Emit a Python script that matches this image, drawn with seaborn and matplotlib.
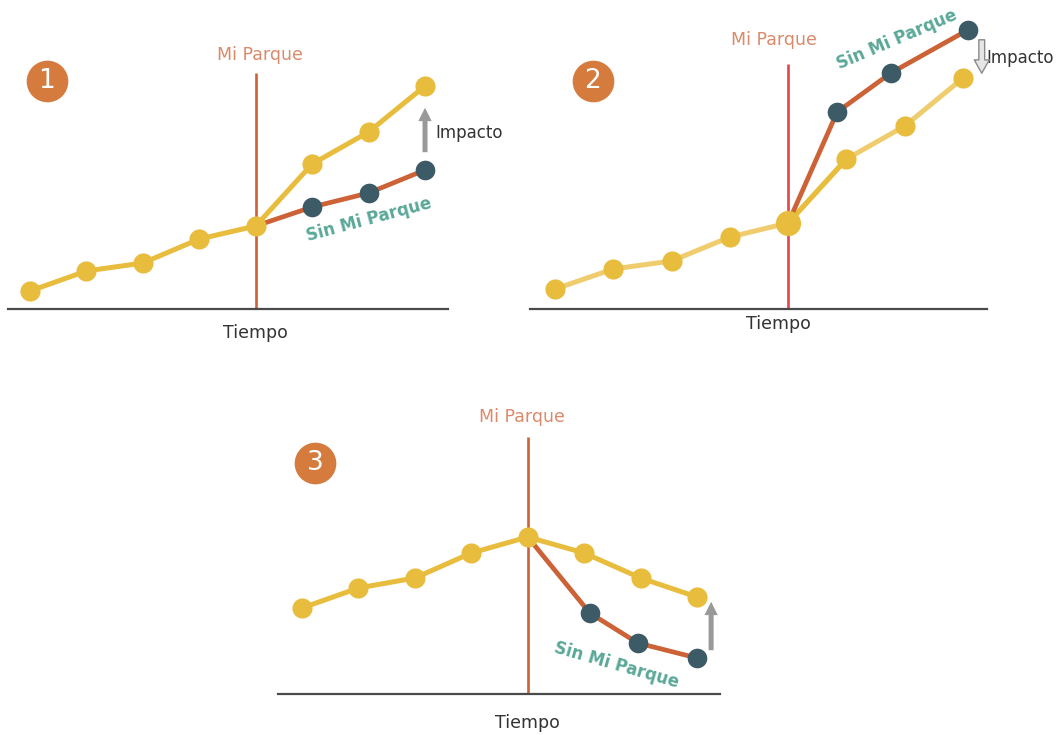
import matplotlib
matplotlib.use("Agg")
import matplotlib.pyplot as plt
import seaborn as sns
import numpy as np

sns.set_theme(style="white")
plt.rcParams['font.family'] = ['DejaVu Sans']

# ---------------- data (height above baseline) -------------
time_idx = [0, 1, 2, 3, 4, 5, 6, 7]

p1_con = [1.8, 3.8, 4.6, 7.0, 8.3, 14.5, 17.7, 22.3]
p1_sin_x = [4, 5, 6, 7]
p1_sin = [8.3, 10.2, 11.6, 13.9]

p2_con = [2.0, 4.0, 4.8, 7.2, 8.6, 15.0, 18.3, 23.1]
p2_sin_x = [4, 4.84, 5.76, 7.08]
p2_sin = [8.6, 19.7, 23.6, 27.9]

p3_con = [8.6, 10.6, 11.6, 14.1, 15.7, 14.1, 11.6, 9.7]
p3_sin_x = [4, 5.1, 5.95, 7.0]
p3_sin = [15.7, 8.1, 5.1, 3.6]

labels_mi = "Mi Parque"
labels_sin = "Sin Mi Parque"
label_imp = "Impacto"
label_time = "Tiempo"
panel_nums = ["1", "2", "3"]

# ---------------- style -------------
YEL = "#e8bc3c"
YEL_L = "#efcd6e"
DARK = "#3d5b66"
RED = "#cc6236"
VRED = "#e0474a"
TEAL = "#5aa898"
SALMON = "#da8a6a"
CIRC = "#d57b3e"
GRAY = "#999999"
BASE = "#4a4a4a"

W, H = 1064, 735
fig = plt.figure(figsize=(W / 100, H / 100), dpi=100)
fig.patch.set_facecolor("white")


def make_ax(px_left, px_right, px_base, px_top, x0_px, step_px):
    ax = fig.add_axes([px_left / W, (H - px_base) / H,
                       (px_right - px_left) / W, (px_base - px_top) / H])
    ax.set_xlim((px_left - x0_px) / step_px, (px_right - x0_px) / step_px)
    ax.set_ylim(0, (px_base - px_top) / 10.0)
    ax.set_facecolor("none")
    for s in ["top", "right", "left"]:
        ax.spines[s].set_visible(False)
    ax.spines["bottom"].set_color(BASE)
    ax.spines["bottom"].set_linewidth(1.6)
    ax.set_xticks([])
    ax.set_yticks([])
    ax.set_xlabel("")
    ax.set_ylabel("")
    return ax


def draw_panel(ax, con, sin_x, sin, vtop, vcolor, con_line_color, seg_color,
               num, num_pos, mi_pos, sin_pos, sin_rot, time_pos,
               arrow, imp_pos, hollow=False, big_mid=False):
    ax.vlines(4, 0, vtop, color=vcolor, lw=1.9, zorder=1, clip_on=False)
    sns.lineplot(x=time_idx, y=con, ax=ax, color=con_line_color, lw=3.6,
                 zorder=2, estimator=None, sort=False)
    if seg_color is not None:
        sns.lineplot(x=time_idx[4:6], y=con[4:6], ax=ax, color=seg_color,
                     lw=3.6, zorder=2, estimator=None, sort=False)
    sns.lineplot(x=sin_x, y=sin, ax=ax, color=RED, lw=3.4, zorder=3,
                 estimator=None, sort=False)
    sns.scatterplot(x=time_idx, y=con, ax=ax, color=YEL, s=210,
                    linewidth=0, zorder=4, clip_on=False, legend=False)
    if big_mid:
        ax.scatter([time_idx[4]], [con[4]], s=330, color=YEL,
                   linewidth=0, zorder=5, clip_on=False)
    sns.scatterplot(x=sin_x[1:], y=sin[1:], ax=ax, color=DARK, s=200,
                    linewidth=0, zorder=5, clip_on=False, legend=False)
    ax.text(mi_pos[0], mi_pos[1], labels_mi, color=SALMON, fontsize=12.5,
            ha="center", va="center", clip_on=False)
    ax.text(sin_pos[0], sin_pos[1], labels_sin, color=TEAL, fontsize=12,
            fontweight="bold", ha="center", va="center", rotation=sin_rot,
            rotation_mode="anchor", clip_on=False)
    ax.text(time_pos[0], time_pos[1], label_time, color="#333333",
            fontsize=12.5, ha="center", va="center", clip_on=False)
    if imp_pos is not None:
        ax.text(imp_pos[0], imp_pos[1], label_imp, color="#333333",
                fontsize=12, ha="left", va="center", clip_on=False)
    (ax_x, y_from, y_to) = arrow
    if hollow:
        ax.annotate("", xy=(ax_x, y_to), xytext=(ax_x, y_from),
                    arrowprops=dict(arrowstyle="simple,head_width=0.9,head_length=0.8,tail_width=0.35",
                                    facecolor="#e6e6e6", edgecolor="#8a8a8a", lw=1.0),
                    annotation_clip=False, zorder=6)
    else:
        ax.annotate("", xy=(ax_x, y_to), xytext=(ax_x, y_from),
                    arrowprops=dict(arrowstyle="simple,head_width=0.8,head_length=0.8,tail_width=0.3",
                                    color=GRAY, lw=0),
                    annotation_clip=False, zorder=6)
    ax.scatter([num_pos[0]], [num_pos[1]], s=900, color=CIRC, linewidth=0,
               zorder=6, clip_on=False)
    ax.text(num_pos[0], num_pos[1], num, color="white", fontsize=19,
            ha="center", va="center", zorder=7, clip_on=False)


# Panel 1
ax1 = make_ax(8, 448, 309, 20, 30, 56.43)
draw_panel(ax1, p1_con, p1_sin_x, p1_sin, vtop=23.6, vcolor=RED,
           con_line_color=YEL, seg_color=None, num=panel_nums[0],
           num_pos=(0.30, 22.8), mi_pos=(4.07, 25.4), sin_pos=(6.0, 8.9),
           sin_rot=15, time_pos=(4.0, -2.4), arrow=(7.0, 15.4, 20.4),
           imp_pos=(7.18, 17.6))

# Panel 2
ax2 = make_ax(530, 987, 309, 5, 555, 58.3)
draw_panel(ax2, p2_con, p2_sin_x, p2_sin, vtop=24.5, vcolor=VRED,
           con_line_color=YEL_L, seg_color=YEL, num=panel_nums[1],
           num_pos=(0.65, 22.8), mi_pos=(3.75, 26.9), sin_pos=(5.87, 26.9),
           sin_rot=23, time_pos=(3.84, -1.5), arrow=(7.32, 27.2, 23.3),
           imp_pos=(7.4, 25.1), hollow=True, big_mid=True)

# Panel 3
ax3 = make_ax(278, 720, 694, 395, 302, 56.43)
draw_panel(ax3, p3_con, p3_sin_x, p3_sin, vtop=25.7, vcolor=RED,
           con_line_color=YEL, seg_color=None, num=panel_nums[2],
           num_pos=(0.23, 23.1), mi_pos=(3.9, 27.7), sin_pos=(5.58, 2.9),
           sin_rot=-16, time_pos=(4.0, -2.9), arrow=(7.25, 4.1, 9.5),
           imp_pos=None)

fig.savefig("out.png", dpi=100, facecolor="white")
